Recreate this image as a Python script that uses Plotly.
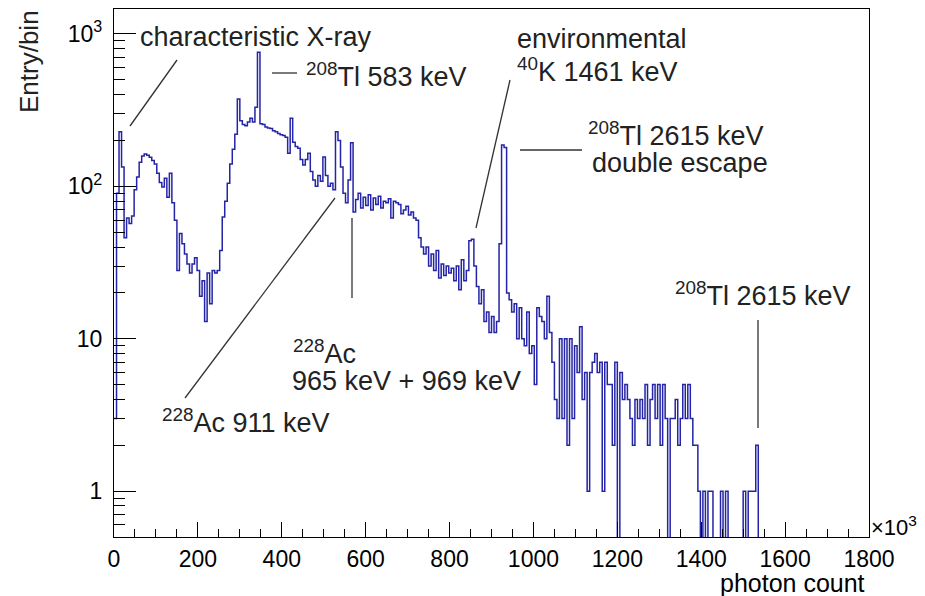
import numpy as np
import plotly.graph_objects as go

# ---------------- data ----------------
bin_width = 6  # in units of 10^3 photon counts
counts = [
    3, 90, 228, 134, 46, 62, 57, 64, 95, 115,
    144, 158, 163, 160, 155, 148, 140, 122, 106, 99,
    113, 85, 122, 78, 60, 28, 49, 42, 36, 31,
    27, 31, 34, 28, 19, 24, 13, 27, 17, 28,
    27, 28, 38, 63, 80, 105, 140, 175, 220, 375,
    270, 255, 250, 265, 280, 265, 330, 760, 258, 255,
    245, 242, 240, 232, 228, 222, 218, 216, 210, 165,
    280, 195, 183, 178, 150, 138, 150, 165, 125, 110,
    100, 118, 108, 156, 118, 100, 105, 95, 228, 200,
    134, 90, 78, 110, 193, 68, 82, 90, 72, 85,
    75, 88, 70, 84, 76, 86, 72, 80, 78, 83,
    62, 80, 78, 76, 66, 70, 74, 65, 68, 62,
    60, 46, 40, 36, 40, 30, 36, 28, 38, 25,
    31, 26, 30, 27, 29, 24, 30, 21, 33, 24,
    28, 44, 45, 30, 22, 17, 21, 13, 15, 11,
    14, 11, 13, 42, 187, 180, 20, 18, 15, 17,
    10, 16, 10, 9, 15, 8, 9, 5, 16, 14,
    13, 10, 19, 11, 7, 4, 3, 10, 3, 10,
    2, 10, 3, 9, 6, 12, 4, 6, 1, 6,
    7, 8, 6, 7, 1, 7, 5, 5, 2, 7,
    0, 6, 4, 5, 4, 3, 2, 4, 3, 4,
    3, 5, 2, 4, 5, 3, 5, 2, 5, 3,
    0, 3, 3, 4, 2, 3, 5, 3, 5, 3,
    2, 2, 1, 0, 1, 0, 1, 1, 0, 0,
    0, 1, 0, 1, 0, 0, 0, 0, 0, 0,
    1, 0, 1, 1, 1, 2, 0,
]
x_tick_vals = [0, 200, 400, 600, 800, 1000, 1200, 1400, 1600, 1800]
y_tick_vals = [1, 10, 100, 1000]
y_tick_text = ["1", "10", "10<sup>2</sup>", "10<sup>3</sup>"]
y_minor_vals = [m * 10 ** d for d in range(-1, 3) for m in range(2, 10)]
y_minor_vals = [v for v in y_minor_vals if 0.5 <= v <= 1460]

# ---------------- figure ----------------
edges = np.arange(len(counts) + 1) * bin_width
vals = np.array(counts, dtype=float)
vals_plot = np.where(vals > 0, vals, 1e-2)  # empty bins drop below the frame
ys = np.append(vals_plot, vals_plot[-1])

W, H = 925, 596
L, R, T, B = 114, 56, 9, 59
PW, PH = W - L - R, H - T - B


def px(x):
    return (x - L) / PW


def py(y):
    return (H - B - y) / PH


FONT = "Liberation Sans, Arial, Helvetica, sans-serif"
LINE_COL = "#2424a8"

fig = go.Figure()
fig.add_trace(go.Scatter(
    x=edges, y=ys, mode="lines",
    line=dict(shape="hv", color=LINE_COL, width=1.5),
    hoverinfo="skip", showlegend=False,
))

fig.update_layout(
    width=W, height=H,
    margin=dict(l=L, r=R, t=T, b=B, pad=0),
    paper_bgcolor="white", plot_bgcolor="white",
    font=dict(family=FONT, color="black"),
    showlegend=False,
)
fig.update_xaxes(
    range=[0, 1800], tickmode="array", tickvals=x_tick_vals,
    ticks="inside", ticklen=15, tickwidth=1.2, tickcolor="black",
    showline=True, linecolor="black", linewidth=1.3, mirror=True,
    showgrid=False, zeroline=False,
    tickfont=dict(size=23, family=FONT),
    ticklabelstandoff=1,
    minor=dict(dtick=50, ticks="inside", ticklen=8, tickwidth=1.1,
               tickcolor="black", showgrid=False),
)
fig.update_yaxes(
    type="log", range=[np.log10(0.5), 3.164],
    tickmode="array", tickvals=y_tick_vals, ticktext=y_tick_text,
    ticks="inside", ticklen=22, tickwidth=1.2, tickcolor="black",
    showline=True, linecolor="black", linewidth=1.3, mirror=True,
    showgrid=False, zeroline=False,
    tickfont=dict(size=23, family=FONT),
    ticklabelstandoff=6,
    minor=dict(tickmode="array", tickvals=y_minor_vals, ticks="inside",
               ticklen=11, tickwidth=1.1, tickcolor="black", showgrid=False),
)

ANN_SIZE = 27
ANN_COL = "#222222"


def label(text, x, y, size=ANN_SIZE, xanchor="left", angle=0):
    fig.add_annotation(
        text=text, x=px(x), y=py(y), xref="paper", yref="paper",
        showarrow=False, xanchor=xanchor, yanchor="middle",
        font=dict(size=size, color=ANN_COL, family=FONT), textangle=angle,
    )


def seg(x0, y0, x1, y1):
    fig.add_shape(
        type="line", xref="paper", yref="paper",
        x0=px(x0), y0=py(y0), x1=px(x1), y1=py(y1),
        line=dict(color="#333333", width=1.3),
    )


label("characteristic X-ray", 138, 37)
seg(130, 126, 177, 60)

label("<sup>208</sup>Tl 583 keV", 304, 75)
seg(272, 73, 297, 73)

label("environmental", 515, 39)
label("<sup>40</sup>K 1461 keV", 515, 70)
seg(476, 228, 510, 80)

label("<sup>208</sup>Tl 2615 keV", 586, 134)
label("double escape", 590, 163)
seg(520, 150, 582, 150)

label("<sup>228</sup>Ac 911 keV", 160, 421)
seg(185, 398, 335, 198)

label("<sup>228</sup>Ac", 291, 352)
label("965 keV + 969 keV", 290, 381)
seg(352, 218, 352, 298)

label("<sup>208</sup>Tl 2615 keV", 673, 294)
seg(758, 320, 758, 428)

# axis titles
label("Entry/bin", 29, 62, size=26, xanchor="center", angle=-90)
fig.add_annotation(
    text="photon count", x=px(867), y=py(583), xref="paper", yref="paper",
    showarrow=False, xanchor="right", yanchor="middle",
    font=dict(size=25, color="black", family=FONT),
)
fig.add_annotation(
    text="\u00d710<sup>3</sup>", x=px(869), y=py(526), xref="paper", yref="paper",
    showarrow=False, xanchor="left", yanchor="middle",
    font=dict(size=22, color="black", family=FONT),
)

fig.write_html("out.html")
